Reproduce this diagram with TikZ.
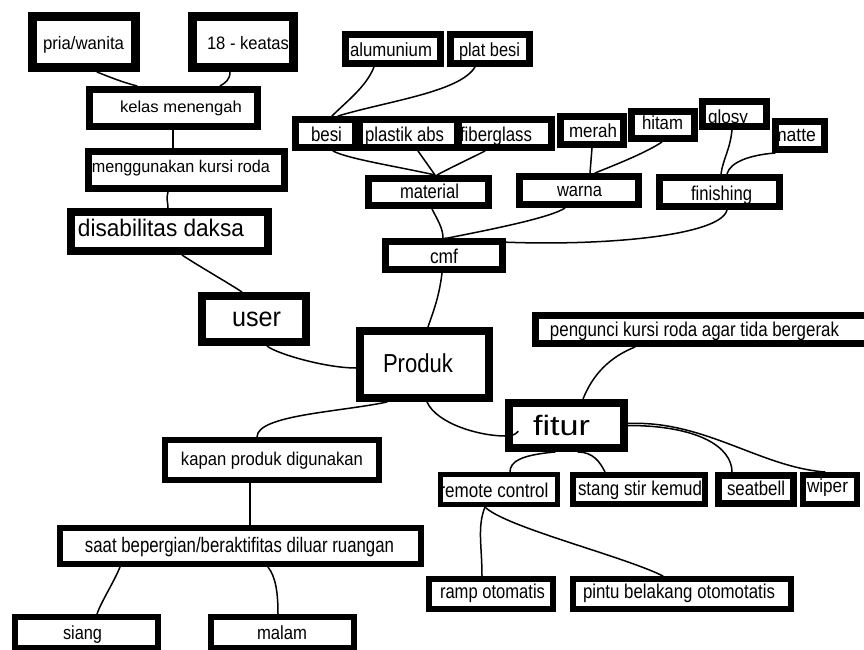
\documentclass[tikz,border=0pt]{standalone}
\usepackage{fontspec}
\setmainfont{Liberation Sans}
\usepackage{graphicx}
\usetikzlibrary{calc}
\tikzset{
  boxst/.style={draw=black, fill=white, inner sep=0pt, rectangle},
  conn/.style={draw=black, line width=1.5pt, line cap=round},
  txtst/.style={inner sep=0pt, anchor=base, text=black}
}
% name, x1, y1, x2, y2, border width (outer extents in pixels)
\newcommand\mkbox[6]{%
  \pgfmathsetmacro\bcx{(#2+#4)/2}\pgfmathsetmacro\bcy{(#3+#5)/2}%
  \pgfmathsetmacro\bww{#4-#2-#6}\pgfmathsetmacro\bhh{#5-#3-#6}%
  \node[boxst, line width=#6pt, minimum width=\bww pt, minimum height=\bhh pt] (#1) at (\bcx,\bcy) {};}
% name, centre x, baseline y, font size, text width, text
\newcommand\mktext[6]{%
  \node[txtst] (#1) at (#2,#3) {\resizebox{#5pt}{\height}{\fontsize{#4}{#4}\selectfont #6}};}
\begin{document}
\begin{tikzpicture}[x=1pt,y=-1pt]
\fill[white] (0,0) rectangle (864,650);
\useasboundingbox (0,0) rectangle (864,650);
\clip (0,0) rectangle (864,650);
% ---------- boxes ----------
\mkbox{pria}{28}{12}{140}{72}{9}
\mkbox{keatas}{188}{12}{298}{72}{9}
\mkbox{kelas}{86}{86}{261}{130}{7}
\mkbox{kursi}{85}{148}{288}{192}{7}
\mkbox{daksa}{67}{208}{272}{255}{8}
\mkbox{user}{198}{292}{310}{346}{8}
\mkbox{produk}{356}{327}{493}{402}{8}
\mkbox{kapan}{162}{437}{382}{483}{6}
\mkbox{saat}{57}{525}{424}{567}{6}
\mkbox{siang}{12}{614}{161}{651}{6}
\mkbox{malam}{208}{614}{357}{651}{6}
\mkbox{alu}{342}{31}{444}{67}{7}
\mkbox{plat}{447}{31}{533}{67}{7}
\mkbox{besi}{292}{116}{359}{151}{7}
\mkbox{plastik}{356}{116}{461}{151}{7}
\mkbox{fiber}{455}{116}{555}{151}{7}
\mkbox{merah}{557}{113}{627}{148}{7}
\mkbox{hitam}{628}{108}{698}{142}{7}
\mkbox{glosy}{699}{98}{770}{130}{7}
\mkbox{matte}{772}{118}{828}{153}{7}
\mkbox{material}{365}{175}{492}{209}{7}
\mkbox{warna}{516}{173}{642}{208}{7}
\mkbox{finishing}{656}{174}{783}{210}{7}
\mkbox{cmf}{382}{238}{506}{273}{7}
\mkbox{pengunci}{532}{312}{875}{347}{7}
\mkbox{fitur}{505}{399}{628}{452}{8}
\mkbox{remote}{438}{472}{560}{507}{5}
\mkbox{stang}{570}{472}{708}{507}{6}
\mkbox{seatbell}{715}{472}{797}{507}{7}
\mkbox{wiper}{800}{472}{860}{507}{6}
\mkbox{ramp}{426}{576}{556}{612}{6}
\mkbox{pintu}{570}{576}{794}{612}{6}
% ---------- connectors ----------
\draw[conn] ([xshift=13]pria.south) .. controls +(15,6) and +(-15,-4) .. ([xshift=-36.5]kelas.north);
\draw[conn] ([xshift=-13]keatas.south) .. controls +(0,8) and +(5,-3) .. ([xshift=46.5]kelas.north);
\draw[conn] ([xshift=-0.5]kelas.south) -- ([xshift=-13.5]kursi.north);
\draw[conn] ([xshift=-18.5]kursi.south) .. controls +(-2,8) and +(0,-6) .. ([xshift=-1.5]daksa.north);
\draw[conn] ([xshift=12.5]daksa.south) .. controls +(15,10) and +(-12,-8) .. ([xshift=-12]user.north);
\draw[conn] ([xshift=13]user.south) .. controls +(10,8) and +(-30,0) .. ([yshift=-3.5]produk.west);
\draw[conn] ([xshift=-37.5]produk.south) .. controls +(-47,10) and +(0,-22) .. ([xshift=-15]kapan.north);
\draw[conn] ([xshift=2.5]produk.south) .. controls +(10,22) and +(-25,0) .. ([yshift=-10.5]fitur.west)
  .. controls +(8,0) and +(-3,3) .. ([xshift=13,yshift=-6]fitur.west);
\draw[conn] ([xshift=-22]kapan.south) -- ([xshift=9.5]saat.north);
\draw[conn] ([xshift=-120.5]saat.south) .. controls +(-6,15) and +(4,-12) .. ([xshift=10.5]siang.north);
\draw[conn] ([xshift=27.5]saat.south) .. controls +(8,10) and +(0,-20) .. ([xshift=-4.5]malam.north);
\draw[conn] ([xshift=-19]alu.south) .. controls +(-8,20) and +(15,-15) .. ([xshift=6.5]besi.north);
\draw[conn] ([xshift=-15]plat.south) .. controls +(-15,25) and +(50,-15) .. ([xshift=12.5]besi.north);
\draw[conn] ([xshift=7.5]besi.south) .. controls +(15,8) and +(-35,-8) .. ([xshift=6.5]material.north);
\draw[conn] ([xshift=9.5]plastik.south) -- ([xshift=6.5]material.north);
\draw[conn] ([xshift=-20]fiber.south) .. controls +(-20,10) and +(15,-8) .. ([xshift=8.5]material.north);
\draw[conn] ([xshift=3.5]material.south) .. controls +(5,10) and +(0,-10) .. ([xshift=-1]cmf.north);
\draw[conn] ([xshift=-14]warna.south) .. controls +(-15,10) and +(40,-8) .. ([xshift=4]cmf.north);
\draw[conn] ([xshift=7.5]finishing.south) .. controls +(-7,30) and +(115,12) .. ([xshift=1]cmf.north);
\draw[conn] (merah.south) -- ([xshift=11]warna.north);
\draw[conn] ([xshift=-1]hitam.south) .. controls +(-15,10) and +(25,-10) .. ([xshift=16]warna.north);
\draw[conn] ([xshift=-2.5]glosy.south) .. controls +(-2,20) and +(2,-15) .. ([xshift=1.5]finishing.north);
\draw[conn] ([xshift=-25]matte.south) .. controls +(-25,2) and +(3,-12) .. ([xshift=7.5]finishing.north);
\draw[conn] ([xshift=-2]cmf.south) .. controls +(-3,25) and +(5,-15) .. ([xshift=3.5]produk.north);
\draw[conn] ([xshift=-68.5]pengunci.south) .. controls +(-25,10) and +(10,-25) .. ([xshift=16.5]fitur.north);
\draw[conn] ([xshift=-11.5]fitur.south) .. controls +(-35,3) and +(0,-10) .. ([xshift=11]remote.north);
\draw[conn] ([xshift=11.5]fitur.south) .. controls +(15,0) and +(-5,-10) .. ([xshift=-34]stang.north);
\draw[conn] (fitur.east) .. controls +(70,0) and +(0,-25) .. ([xshift=-24]seatbell.north);
\draw[conn] ([yshift=2]fitur.east) .. controls +(76,-3.5) and +(-65,-5) .. ([xshift=-5]wiper.north);
\draw[conn] ([xshift=-14]remote.south) .. controls +(-8,20) and +(0,-30) .. ([xshift=-9]ramp.north);
\draw[conn] ([xshift=-14]remote.south) .. controls +(20,20) and +(-40,-20) .. ([xshift=-19]pintu.north);
% ---------- texts ----------
\mktext{pria-t}{83.5}{50}{18}{81}{pria/wanita}
\mktext{keatas-t}{248}{50}{18}{82}{18 - keatas}
\mktext{kelas-t}{181}{113}{16}{122}{kelas menengah}
\mktext{kursi-t}{181}{172}{17}{178}{menggunakan kursi roda}
\mktext{daksa-t}{161}{236}{24}{166}{disabilitas daksa}
\mktext{user-t}{256.5}{326}{27}{49}{user}
\mktext{produk-t}{418}{372}{26}{70}{Produk}
\mktext{kapan-t}{272}{465}{18.5}{182}{kapan produk digunakan}
\mktext{saat-t}{239.5}{552}{21}{309}{saat bepergian/beraktifitas diluar ruangan}
\mktext{siang-t}{82.5}{639}{19}{39}{siang}
\mktext{malam-t}{282}{639}{19}{50}{malam}
\mktext{alu-t}{391}{57}{19}{82}{alumunium}
\mktext{plat-t}{489.5}{57}{19}{61}{plat besi}
\mktext{besi-t}{326.5}{142}{20}{31}{besi}
\mktext{plastik-t}{404.5}{142}{20}{79}{plastik abs}
\mktext{fiber-t}{496}{142}{20}{72}{fiberglass}
\mktext{material-t}{429.5}{198}{20}{59}{material}
\mktext{cmf-t}{444}{263}{20}{28}{cmf}
\mktext{merah-t}{593}{137}{19}{48}{merah}
\mktext{hitam-t}{662.5}{130}{19}{41}{hitam}
\mktext{glosy-t}{728}{124}{19}{40}{glosy}
\mktext{matte-t}{794}{142}{19}{44}{matte}
\mktext{warna-t}{579.5}{196}{19}{45}{warna}
\mktext{finishing-t}{721.5}{200}{20}{61}{finishing}
\mktext{pengunci-t}{694.5}{336}{20}{289}{pengunci kursi roda agar tida bergerak}
\mktext{fitur-t}{561.5}{435}{28}{57}{fitur}
\mktext{remote-t}{494}{497}{20}{109}{remote control}
\mktext{stang-t}{640}{495}{20}{124}{stang stir kemud}
\mktext{seatbell-t}{756}{495}{20}{58}{seatbell}
\mktext{wiper-t}{827.5}{492}{19}{41}{wiper}
\mktext{ramp-t}{492.5}{598}{20}{105}{ramp otomatis}
\mktext{pintu-t}{679}{598}{20}{192}{pintu belakang otomotatis}
\end{tikzpicture}
\end{document}
